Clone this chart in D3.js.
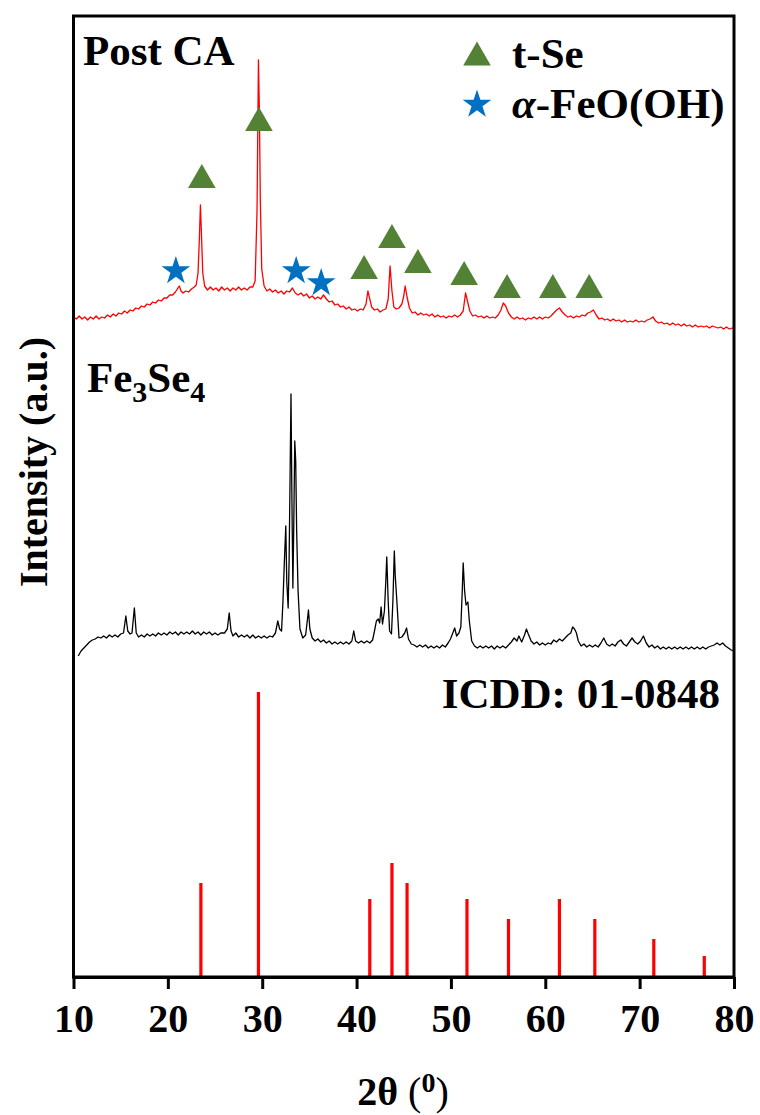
<!DOCTYPE html>
<html><head><meta charset="utf-8">
<script src="https://cdn.jsdelivr.net/npm/d3@7"></script>
<style>
body{margin:0;background:#fff;}
text{font-family:"Liberation Serif","Times New Roman",serif;font-weight:bold;fill:#000;}
</style></head>
<body>
<svg id="chart" width="760" height="1115"></svg>
<script>
// ---------------- data ----------------
const xTicks = [10, 20, 30, 40, 50, 60, 70, 80];
const offsetPost = 640;   // vertical stacking offset of the Post CA pattern
const offsetFe = 320;     // vertical stacking offset of the Fe3Se4 pattern

// Post CA pattern: [2theta, intensity]
const postCA = [[10.0,20],[10.3,18],[10.6,21],[10.9,18],[11.2,20],[11.5,17],[11.8,20],[12.1,18],[12.4,21],[12.7,18],[13.0,20],[13.3,19],[13.6,22],[13.9,20],[14.2,23],[14.5,21],[14.8,24],[15.1,23],[15.4,26],[15.7,24],[16.0,27],[16.3,26],[16.6,29],[16.9,28],[17.2,31],[17.5,30],[17.8,33],[18.1,32],[18.4,35],[18.7,34],[19.0,37],[19.3,36],[19.6,39],[19.9,39],[20.2,42],[20.5,42],[20.8,45],[21.0,48],[21.2,51],[21.4,46],[21.6,44],[21.9,46],[22.2,45],[22.5,48],[22.8,50],[23.0,52],[23.2,64],[23.35,101],[23.45,132],[23.55,106],[23.7,64],[23.9,51],[24.2,47],[24.5,50],[24.8,47],[25.1,49],[25.4,46],[25.7,50],[26.0,47],[26.3,49],[26.6,46],[26.9,49],[27.2,47],[27.5,50],[27.8,47],[28.1,49],[28.4,47],[28.7,50],[29.0,50],[29.25,56],[29.45,126],[29.6,277],[29.7,226],[29.8,136],[29.95,68],[30.2,51],[30.5,46],[30.8,48],[31.1,45],[31.4,47],[31.7,44],[32.0,46],[32.3,43],[32.6,46],[32.9,45],[33.2,49],[33.5,44],[33.8,42],[34.1,44],[34.4,41],[34.7,43],[35.0,39],[35.3,41],[35.6,38],[35.9,40],[36.2,38],[36.5,42],[36.8,38],[37.1,35],[37.4,36],[37.7,32],[38.0,33],[38.3,30],[38.6,31],[38.9,28],[39.2,30],[39.5,27],[39.8,28],[40.1,26],[40.4,28],[40.7,27],[41.0,33],[41.2,46],[41.4,38],[41.6,30],[41.9,27],[42.2,28],[42.5,25],[42.8,27],[43.1,28],[43.35,38],[43.55,71],[43.75,46],[43.95,30],[44.2,28],[44.5,29],[44.8,33],[45.0,41],[45.15,51],[45.35,40],[45.6,29],[45.9,24],[46.2,25],[46.5,22],[46.8,24],[47.1,22],[47.4,23],[47.7,21],[48.0,23],[48.3,20],[48.6,22],[48.9,20],[49.2,21],[49.5,19],[49.8,21],[50.1,20],[50.4,22],[50.7,20],[51.0,22],[51.3,26],[51.55,44],[51.75,36],[52.0,26],[52.3,21],[52.6,22],[52.9,20],[53.2,21],[53.5,19],[53.8,21],[54.1,19],[54.4,20],[54.7,19],[55.0,22],[55.3,27],[55.55,34],[55.8,31],[56.1,24],[56.4,20],[56.7,18],[57.0,20],[57.3,18],[57.6,19],[57.9,17],[58.2,19],[58.5,18],[58.8,20],[59.1,18],[59.4,20],[59.7,18],[60.0,20],[60.3,19],[60.6,21],[60.9,24],[61.2,27],[61.5,29],[61.8,25],[62.1,22],[62.4,20],[62.7,21],[63.0,19],[63.3,21],[63.6,20],[63.9,22],[64.2,21],[64.5,24],[64.8,25],[65.1,27],[65.4,22],[65.7,18],[66.0,19],[66.3,17],[66.6,18],[66.9,16],[67.2,18],[67.5,16],[67.8,17],[68.1,15],[68.4,17],[68.7,15],[69.0,16],[69.3,15],[69.6,17],[69.9,15],[70.2,16],[70.5,15],[70.8,17],[71.1,18],[71.4,20],[71.7,16],[72.0,14],[72.3,15],[72.6,13],[72.9,14],[73.2,12],[73.5,14],[73.8,12],[74.1,13],[74.4,11],[74.7,13],[75.0,11],[75.3,12],[75.6,10],[75.9,12],[76.2,10],[76.5,11],[76.8,10],[77.1,11],[77.4,9],[77.7,11],[78.0,10],[78.3,9],[78.6,10],[78.9,8],[79.2,10],[79.5,8],[79.8,9],[80.0,8]];

// Fe3Se4 pattern: [2theta, intensity]
const fe3se4 = [[10.5,1],[10.8,6],[11.1,9],[11.4,12],[11.7,15],[12.0,17],[12.3,18],[12.6,20],[12.9,19],[13.2,21],[13.5,19],[13.8,22],[14.1,20],[14.4,22],[14.7,20],[15.0,23],[15.3,24],[15.55,41],[15.75,26],[16.0,23],[16.2,24],[16.45,49],[16.65,24],[16.9,20],[17.2,22],[17.5,20],[17.8,23],[18.1,21],[18.4,23],[18.7,21],[19.0,24],[19.3,22],[19.6,24],[19.9,22],[20.2,25],[20.5,23],[20.8,25],[21.1,22],[21.4,25],[21.7,23],[22.0,25],[22.3,23],[22.6,26],[22.9,23],[23.2,25],[23.5,22],[23.8,25],[24.1,23],[24.4,25],[24.7,22],[25.0,24],[25.3,22],[25.6,24],[26.0,24],[26.3,28],[26.5,44],[26.7,26],[26.9,21],[27.2,24],[27.5,20],[27.8,22],[28.1,20],[28.4,22],[28.7,19],[29.0,22],[29.3,19],[29.6,21],[29.9,19],[30.2,21],[30.5,19],[30.8,21],[31.1,20],[31.4,24],[31.65,36],[31.85,28],[32.05,26],[32.2,56],[32.35,96],[32.5,131],[32.6,76],[32.75,49],[32.85,96],[32.95,178],[33.05,263],[33.15,156],[33.25,69],[33.35,136],[33.45,216],[33.55,196],[33.65,126],[33.8,66],[34.0,28],[34.3,19],[34.6,22],[34.8,38],[34.9,47],[35.05,28],[35.3,19],[35.6,16],[35.9,18],[36.2,15],[36.5,17],[36.8,14],[37.1,16],[37.4,13],[37.7,15],[38.0,13],[38.3,15],[38.6,13],[38.9,15],[39.2,13],[39.5,16],[39.7,26],[39.9,16],[40.2,14],[40.5,16],[40.8,14],[41.1,16],[41.4,14],[41.7,17],[41.9,26],[42.1,36],[42.3,38],[42.45,34],[42.6,50],[42.75,33],[42.95,46],[43.1,76],[43.2,100],[43.35,56],[43.5,26],[43.7,23],[43.85,56],[44.0,106],[44.1,81],[44.25,59],[44.5,19],[44.8,20],[45.1,24],[45.3,29],[45.5,18],[45.8,13],[46.1,12],[46.4,10],[46.7,12],[47.0,10],[47.3,12],[47.6,9],[47.9,11],[48.2,9],[48.5,11],[48.8,9],[49.1,12],[49.4,10],[49.7,14],[49.95,18],[50.2,24],[50.4,29],[50.6,21],[50.85,24],[51.05,30],[51.2,66],[51.3,94],[51.45,66],[51.6,52],[51.8,55],[51.95,36],[52.2,16],[52.5,11],[52.8,9],[53.1,11],[53.4,9],[53.7,11],[54.0,9],[54.3,11],[54.6,8],[54.9,11],[55.2,9],[55.5,11],[55.8,9],[56.1,12],[56.4,15],[56.7,19],[57.0,16],[57.2,21],[57.5,15],[57.8,22],[58.0,28],[58.2,23],[58.5,16],[58.8,13],[59.1,15],[59.4,12],[59.7,14],[60.0,12],[60.3,14],[60.6,13],[60.9,17],[61.2,15],[61.5,18],[61.8,16],[62.1,19],[62.4,22],[62.7,24],[62.9,30],[63.1,28],[63.3,24],[63.5,16],[63.8,11],[64.1,13],[64.4,10],[64.7,12],[65.0,10],[65.3,12],[65.6,10],[65.9,14],[66.2,19],[66.5,13],[66.8,11],[67.1,13],[67.4,11],[67.7,15],[68.0,17],[68.3,13],[68.6,11],[68.9,15],[69.2,19],[69.5,15],[69.8,13],[70.1,16],[70.4,21],[70.7,14],[71.0,10],[71.3,12],[71.6,9],[71.9,11],[72.2,8],[72.5,10],[72.8,8],[73.1,10],[73.4,8],[73.7,10],[74.0,8],[74.3,10],[74.6,8],[74.9,10],[75.2,8],[75.5,10],[75.8,8],[76.1,10],[76.4,8],[76.7,10],[77.0,8],[77.3,10],[77.6,11],[77.9,12],[78.2,14],[78.5,12],[78.8,14],[79.1,11],[79.4,9],[79.7,7],[80.0,6]];

// ICDD 01-0848 reference lines
const refTheta = [23.5, 29.6, 41.4, 43.75, 45.35, 51.7, 56.1, 61.5, 65.25, 71.5, 76.85];
const refInt   = [94, 285, 78, 114, 94, 78, 58, 78, 58, 38, 21];

// phase markers on the Post CA pattern (2theta, height)
const tSeTheta = [23.6, 29.65, 40.8, 43.75, 46.5, 51.4, 55.95, 60.8, 64.65];
const tSeY     = [797, 854, 706, 737, 712, 700, 687, 687, 687];
const feoTheta = [20.85, 33.6, 36.25];
const feoY     = [706, 706, 694];

const green = "#538135", blue = "#0070C0", red = "#FF0000";

// ---------------- chart ----------------
const svg = d3.select("#chart");
const L = 73.5, R = 734, T = 16, B = 977;
const x = d3.scaleLinear().domain([10, 80]).range([L, R]);
const y = d3.scaleLinear().domain([0, 961]).range([B, T]);

// Post CA trace
svg.append("path").datum(postCA)
  .attr("d", d3.line().x(d => x(d[0])).y(d => y(d[1] + offsetPost)))
  .attr("fill", "none").attr("stroke", red).attr("stroke-width", 1.3).attr("stroke-linejoin", "round");

// Fe3Se4 trace
svg.append("path").datum(fe3se4)
  .attr("d", d3.line().x(d => x(d[0])).y(d => y(d[1] + offsetFe)))
  .attr("fill", "none").attr("stroke", "#000").attr("stroke-width", 1.3).attr("stroke-linejoin", "round");

// reference sticks
svg.append("g").selectAll("line").data(refTheta).join("line")
  .attr("x1", d => x(d)).attr("x2", d => x(d))
  .attr("y1", y(0)).attr("y2", (d, i) => y(refInt[i]))
  .attr("stroke", red).attr("stroke-width", 3.2);

// markers
const tri = d3.symbol().type(d3.symbolTriangle).size(330);
const star = d3.symbol().type(d3.symbolStar).size(255);
svg.append("g").selectAll("path").data(tSeTheta).join("path")
  .attr("d", tri).attr("fill", green)
  .attr("transform", (d, i) => `translate(${x(d)},${y(tSeY[i])})`);
svg.append("g").selectAll("path").data(feoTheta).join("path")
  .attr("d", star).attr("fill", blue)
  .attr("transform", (d, i) => `translate(${x(d)},${y(feoY[i])})`);

// frame
svg.append("rect").attr("x", L).attr("y", T).attr("width", R - L).attr("height", B - T)
  .attr("fill", "none").attr("stroke", "#000").attr("stroke-width", 3);

// x axis
const xAxis = svg.append("g").attr("transform", `translate(0,${B})`)
  .call(d3.axisBottom(x).tickValues(xTicks).tickSize(12).tickSizeOuter(0).tickFormat(d3.format("d")));
xAxis.select(".domain").attr("stroke-width", 3);
xAxis.selectAll(".tick line").attr("stroke-width", 3);
xAxis.selectAll(".tick text")
  .attr("font-family", "Liberation Serif, Times New Roman, serif")
  .attr("font-weight", "bold").attr("font-size", 40).attr("dy", 0).attr("y", 55);

// axis titles
const xt = svg.append("text").attr("x", 403).attr("y", 1105).attr("text-anchor", "middle").attr("font-size", 40);
xt.append("tspan").text("2θ");
xt.append("tspan").attr("font-weight", "normal").text(" (");
xt.append("tspan").attr("font-size", 28).attr("dy", -13).text("0");
xt.append("tspan").attr("font-weight", "normal").attr("dy", 13).text(")");

svg.append("text").attr("transform", "translate(47,462) rotate(-90)")
  .attr("text-anchor", "middle").attr("font-size", 40).text("Intensity (a.u.)");

// pattern labels
svg.append("text").attr("x", 83).attr("y", 65).attr("font-size", 43).text("Post CA");
const fl = svg.append("text").attr("x", 87).attr("y", 392).attr("font-size", 43);
fl.append("tspan").text("Fe");
fl.append("tspan").attr("font-size", 30).attr("dy", 10).text("3");
fl.append("tspan").attr("dy", -10).text("Se");
fl.append("tspan").attr("font-size", 30).attr("dy", 10).text("4");
svg.append("text").attr("x", 720).attr("y", 708).attr("text-anchor", "end").attr("font-size", 43).text("ICDD: 01-0848");

// legend
svg.append("path").attr("d", tri).attr("fill", green).attr("transform", "translate(477,57.5)");
svg.append("text").attr("x", 512).attr("y", 68).attr("font-size", 43).text("t-Se");
svg.append("path").attr("d", star).attr("fill", blue).attr("transform", "translate(477,104.5)");
const lt = svg.append("text").attr("x", 512).attr("y", 118).attr("font-size", 43);
lt.append("tspan").attr("font-style", "italic").text("α");
lt.append("tspan").text("-FeO(OH)");
</script>
</body></html>
